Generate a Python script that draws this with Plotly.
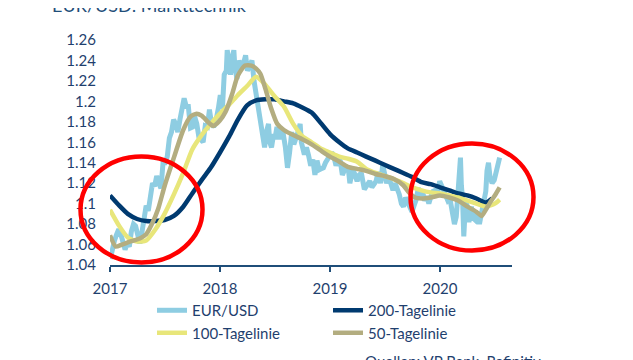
import plotly.graph_objects as go

# ---------------- data ----------------
eurusd_dates = [
    "2017-01-02","2017-01-09","2017-01-16","2017-01-23","2017-01-30",
    "2017-02-06","2017-02-13","2017-02-20","2017-02-27",
    "2017-03-06","2017-03-13","2017-03-20","2017-03-27",
    "2017-04-03","2017-04-10","2017-04-17","2017-04-24",
    "2017-05-01","2017-05-08","2017-05-15","2017-05-22","2017-05-29",
    "2017-06-05","2017-06-12","2017-06-19","2017-06-26",
    "2017-07-03","2017-07-10","2017-07-17","2017-07-24","2017-07-31",
    "2017-08-07","2017-08-14","2017-08-21","2017-08-28",
    "2017-09-04","2017-09-11","2017-09-18","2017-09-25",
    "2017-10-02","2017-10-09","2017-10-16","2017-10-23","2017-10-30",
    "2017-11-06","2017-11-13","2017-11-20","2017-11-27",
    "2017-12-04","2017-12-11","2017-12-18","2017-12-27",
    "2018-01-02","2018-01-09","2018-01-15","2018-01-22","2018-01-25","2018-01-29",
    "2018-02-05","2018-02-12","2018-02-16","2018-02-19","2018-02-26",
    "2018-03-05","2018-03-12","2018-03-19","2018-03-27",
    "2018-04-02","2018-04-09","2018-04-17","2018-04-24","2018-04-30",
    "2018-05-07","2018-05-14","2018-05-21","2018-05-29",
    "2018-06-04","2018-06-11","2018-06-15","2018-06-21","2018-06-28",
    "2018-07-02","2018-07-09","2018-07-16","2018-07-23","2018-07-30",
    "2018-08-06","2018-08-13","2018-08-20","2018-08-27",
    "2018-09-03","2018-09-10","2018-09-17","2018-09-24","2018-09-28",
    "2018-10-08","2018-10-15","2018-10-22","2018-10-29",
    "2018-11-05","2018-11-12","2018-11-19","2018-11-26",
    "2018-12-03","2018-12-10","2018-12-17","2018-12-24","2018-12-31",
    "2019-01-07","2019-01-14","2019-01-21","2019-01-28",
    "2019-02-04","2019-02-11","2019-02-18","2019-02-25",
    "2019-03-04","2019-03-08","2019-03-18","2019-03-25",
    "2019-04-01","2019-04-08","2019-04-15","2019-04-25",
    "2019-05-06","2019-05-13","2019-05-20","2019-05-27",
    "2019-06-03","2019-06-10","2019-06-18","2019-06-25",
    "2019-07-01","2019-07-08","2019-07-15","2019-07-22","2019-07-29",
    "2019-08-05","2019-08-12","2019-08-19","2019-08-26",
    "2019-09-02","2019-09-09","2019-09-16","2019-09-23","2019-09-30",
    "2019-10-07","2019-10-14","2019-10-21","2019-10-28",
    "2019-11-04","2019-11-11","2019-11-18","2019-11-25",
    "2019-12-02","2019-12-09","2019-12-16","2019-12-23","2019-12-31",
    "2020-01-06","2020-01-13","2020-01-20","2020-01-27",
    "2020-02-03","2020-02-10","2020-02-18","2020-02-24",
    "2020-03-02","2020-03-09","2020-03-12","2020-03-16","2020-03-20","2020-03-26","2020-03-31",
    "2020-04-06","2020-04-14","2020-04-20","2020-04-27",
    "2020-05-04","2020-05-11","2020-05-18","2020-05-26",
    "2020-06-01","2020-06-05","2020-06-10","2020-06-15","2020-06-22","2020-06-29",
    "2020-07-06","2020-07-13","2020-07-17",
]
eurusd_values = [
    1.046,1.058,1.064,1.070,1.075,
    1.070,1.062,1.055,1.061,
    1.058,1.073,1.080,1.078,
    1.066,1.061,1.072,1.090,
    1.098,1.093,1.110,1.120,1.117,
    1.127,1.120,1.115,1.140,
    1.140,1.146,1.164,1.170,1.182,
    1.178,1.170,1.182,1.195,
    1.203,1.195,1.195,1.174,
    1.175,1.185,1.178,1.165,1.162,
    1.160,1.176,1.175,1.192,
    1.178,1.175,1.180,1.194,
    1.206,1.193,1.226,1.230,1.250,1.242,
    1.226,1.245,1.250,1.235,1.222,
    1.240,1.232,1.236,1.245,
    1.230,1.234,1.240,1.220,1.208,
    1.192,1.180,1.172,1.155,
    1.170,1.178,1.160,1.155,1.168,
    1.163,1.175,1.163,1.172,1.168,
    1.155,1.135,1.150,1.170,
    1.158,1.163,1.170,1.178,1.160,
    1.148,1.155,1.147,1.137,
    1.143,1.128,1.142,1.133,
    1.134,1.135,1.140,1.143,1.147,
    1.150,1.146,1.137,1.145,
    1.142,1.128,1.132,1.137,
    1.131,1.120,1.134,1.128,
    1.122,1.128,1.130,1.114,
    1.120,1.122,1.116,1.119,
    1.122,1.131,1.120,1.138,
    1.130,1.120,1.126,1.120,1.113,
    1.120,1.115,1.109,1.100,
    1.097,1.106,1.102,1.096,1.092,
    1.098,1.104,1.115,1.110,
    1.112,1.103,1.107,1.100,
    1.107,1.112,1.113,1.108,1.122,
    1.117,1.114,1.108,1.103,
    1.105,1.092,1.080,1.087,
    1.112,1.145,1.118,1.104,1.068,1.102,1.098,
    1.082,1.097,1.086,1.084,
    1.092,1.080,1.092,1.100,
    1.112,1.132,1.140,1.126,1.120,1.123,
    1.130,1.140,1.145,
]

ma_dates = [
    "2017-01-01","2017-02-01","2017-03-01","2017-04-01","2017-05-01","2017-06-01",
    "2017-07-01","2017-08-01","2017-09-01","2017-10-01","2017-11-01","2017-12-01",
    "2018-01-01","2018-02-01","2018-03-01","2018-04-01","2018-05-01","2018-06-01",
    "2018-07-01","2018-08-01","2018-09-01","2018-10-01","2018-11-01","2018-12-01",
    "2019-01-01","2019-02-01","2019-03-01","2019-04-01","2019-05-01","2019-06-01",
    "2019-07-01","2019-08-01","2019-09-01","2019-10-01","2019-11-01","2019-12-01",
    "2020-01-01","2020-02-01","2020-03-01","2020-04-01","2020-05-01","2020-06-01",
]
ma200_values = [
    1.108,1.098,1.090,1.085,1.083,1.083,
    1.084,1.088,1.097,1.110,1.123,1.135,
    1.150,1.166,1.182,1.196,1.201,1.202,
    1.202,1.200,1.198,1.194,1.189,1.179,
    1.168,1.160,1.154,1.150,1.146,1.142,
    1.138,1.134,1.130,1.126,1.121,1.119,
    1.116,1.113,1.110,1.108,1.105,1.101,
]
ma200_end_dates = ["2020-06-22"]
ma200_end_values = [1.105]

ma100_values = [
    1.094,1.078,1.067,1.063,1.064,1.075,
    1.090,1.109,1.130,1.153,1.167,1.178,
    1.188,1.197,1.206,1.215,1.224,1.216,
    1.205,1.195,1.178,1.166,1.160,1.154,
    1.150,1.146,1.144,1.141,1.134,1.130,
    1.127,1.124,1.120,1.116,1.113,1.111,
    1.110,1.108,1.106,1.103,1.100,1.097,
]
ma100_end_dates = ["2020-07-01","2020-07-17"]
ma100_end_values = [1.100,1.104]

ma50_dates = [
    "2017-01-01","2017-01-20","2017-02-10","2017-03-10","2017-04-10","2017-05-01",
    "2017-05-20","2017-06-10","2017-07-01","2017-08-01","2017-09-01","2017-09-25",
    "2017-10-15","2017-11-01","2017-11-25","2017-12-10","2017-12-31","2018-01-20",
    "2018-02-10","2018-03-01","2018-03-25","2018-04-15","2018-05-01","2018-05-15",
    "2018-06-01","2018-06-20","2018-07-10","2018-08-01","2018-09-01","2018-10-01",
    "2018-11-01","2018-12-01","2019-01-01","2019-02-01","2019-03-01","2019-04-01",
    "2019-05-01","2019-06-01","2019-07-01","2019-08-01","2019-09-01","2019-09-20",
    "2019-10-10","2019-11-01","2019-12-01","2020-01-01","2020-02-01","2020-03-01",
    "2020-04-01","2020-05-01","2020-05-18","2020-06-01","2020-06-15","2020-07-01",
    "2020-07-17",
]
ma50_values = [
    1.069,1.058,1.060,1.063,1.066,1.070,
    1.080,1.095,1.117,1.145,1.172,1.185,
    1.188,1.186,1.179,1.176,1.181,1.190,
    1.207,1.225,1.235,1.235,1.232,1.227,
    1.212,1.193,1.178,1.172,1.167,1.163,
    1.158,1.152,1.146,1.141,1.136,1.134,
    1.132,1.129,1.127,1.124,1.118,1.111,
    1.106,1.105,1.106,1.108,1.106,1.103,
    1.097,1.092,1.088,1.094,1.101,1.108,
    1.116,
]

y_ticks = [1.04,1.06,1.08,1.10,1.12,1.14,1.16,1.18,1.20,1.22,1.24,1.26]
y_tick_text = ["1.04","1.06","1.08","1.1","1.12","1.14","1.16","1.18","1.2","1.22","1.24","1.26"]
x_ticks = ["2017-01-01","2018-01-01","2019-01-01","2020-01-01"]
x_tick_text = ["2017","2018","2019","2020"]

# ---------------- style ----------------
C_SPOT = "#8ecde2"
C_200 = "#003a70"
C_100 = "#e8e67a"
C_50 = "#b3ad80"
C_TEXT = "#1f3f6e"
C_AXIS = "#1f4e79"
FONT = "Lato"

fig = go.Figure()
fig.add_trace(go.Scatter(x=eurusd_dates, y=eurusd_values, name="EUR/USD",
                         mode="lines", line=dict(color=C_SPOT, width=5)))
fig.add_trace(go.Scatter(x=ma_dates + ma200_end_dates, y=ma200_values + ma200_end_values,
                         name="200-Tagelinie", mode="lines",
                         line=dict(color=C_200, width=4.5, shape="spline", smoothing=0.6)))
fig.add_trace(go.Scatter(x=ma_dates + ma100_end_dates, y=ma100_values + ma100_end_values,
                         name="100-Tagelinie", mode="lines",
                         line=dict(color=C_100, width=4.5, shape="spline", smoothing=0.6)))
fig.add_trace(go.Scatter(x=ma50_dates, y=ma50_values, name="50-Tagelinie", mode="lines",
                         line=dict(color=C_50, width=4.5, shape="spline", smoothing=0.6)))

fig.update_layout(
    width=633, height=360, autosize=False,
    margin=dict(l=102, r=129, t=32, b=103),
    paper_bgcolor="white", plot_bgcolor="white",
    font=dict(family=FONT, size=15, color=C_TEXT),
    showlegend=True,
    legend=dict(orientation="h", x=0.1045, xanchor="left", y=-0.129, yanchor="top",
                entrywidth=131, entrywidthmode="pixels",
                font=dict(family=FONT, size=15, color=C_TEXT),
                bgcolor="rgba(0,0,0,0)", traceorder="normal"),
    xaxis=dict(type="date", range=["2017-01-01", "2020-08-27"],
               tickvals=x_ticks, ticktext=x_tick_text,
               showgrid=False, zeroline=False,
               showline=True, linecolor=C_AXIS, linewidth=2,
               ticks="outside", ticklen=5, tickwidth=2, tickcolor=C_AXIS,
               ticklabelstandoff=4,
               tickfont=dict(family=FONT, size=15, color=C_TEXT)),
    yaxis=dict(range=[1.04, 1.26], tickvals=y_ticks, ticktext=y_tick_text,
               showgrid=False, zeroline=False, showline=False, ticks="",
               ticklabelstandoff=13,
               tickfont=dict(family=FONT, size=15, color=C_TEXT)),
)

# red highlight ellipses (paper coordinates)
fig.add_shape(type="circle", xref="paper", yref="paper",
              x0=-0.0734, x1=0.2301, y0=0.0111, y1=0.4822,
              line=dict(color="#ff0000", width=4.5), layer="above")
fig.add_shape(type="circle", xref="paper", yref="paper",
              x0=0.7475, x1=1.0535, y0=0.0644, y1=0.54,
              line=dict(color="#ff0000", width=4.5), layer="above")

fig.add_annotation(text="EUR/USD: Markttechnik", xref="paper", yref="paper",
                   x=-0.149, y=1.097, xanchor="left", yanchor="bottom", showarrow=False,
                   font=dict(family=FONT, size=18, color=C_AXIS))
fig.add_annotation(text="Quellen: VP Bank, Refinitiv", xref="paper", yref="paper",
                   x=0.629, y=-0.3796, xanchor="left", yanchor="top", showarrow=False,
                   font=dict(family=FONT, size=15, color=C_TEXT))

fig.write_html("out.html")
